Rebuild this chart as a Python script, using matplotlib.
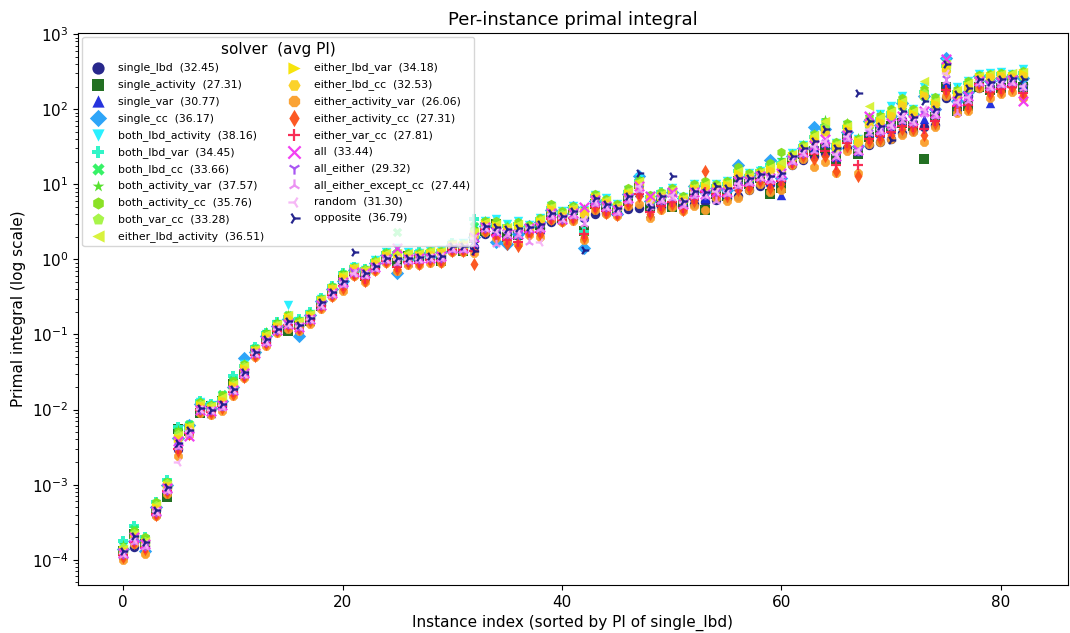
import numpy as np
import matplotlib
matplotlib.use("Agg")
import matplotlib.pyplot as plt

# solver names, avg PI shown in legend
solvers = ["single_lbd", "single_activity", "single_var", "single_cc",
           "both_lbd_activity", "both_lbd_var", "both_lbd_cc", "both_activity_var",
           "both_activity_cc", "both_var_cc", "either_lbd_activity", "either_lbd_var",
           "either_lbd_cc", "either_activity_var", "either_activity_cc", "either_var_cc",
           "all", "all_either", "all_either_except_cc", "random", "opposite"]
avg_pi = [32.45, 27.31, 30.77, 36.17, 38.16, 34.45, 33.66, 37.57, 35.76, 33.28, 36.51,
          34.18, 32.53, 26.06, 27.31, 27.81, 33.44, 29.32, 27.44, 31.30, 36.79]

# per-instance primal integral (instances sorted by single_lbd)
single_lbd = [1.1e-4, 1.5e-4, 1.55e-4, 4.0e-4, 8.0e-4, 3.0e-3, 5.0e-3, 9.5e-3, 1.0e-2, 1.1e-2,
              1.7e-2, 2.8e-2, 5.5e-2, 8.0e-2, 0.11, 0.125, 0.13, 0.16, 0.25, 0.34,
              0.45, 0.62, 0.64, 0.78, 0.95, 0.96, 0.98, 1.0, 1.02, 1.05,
              1.3, 1.35, 1.45, 2.2, 2.25, 2.3, 2.35, 2.4, 2.6, 3.1,
              3.2, 3.4, 3.6, 4.0, 4.1, 4.2, 4.7, 4.8, 4.9, 5.0,
              5.1, 5.2, 5.5, 5.8, 6.2, 6.5, 7.0, 8.5, 9.5, 10,
              11, 18, 21, 24, 26, 27, 30, 31, 33, 37,
              40, 48, 52, 58, 62, 140, 142, 150, 190, 195,
              200, 210, 215]
single_activity = [1.3e-4, 2.2e-4, 1.6e-4, 4.4e-4, 6.8e-4, 5.6e-3, 5.2e-3, 9.0e-3, 1.1e-2, 1.3e-2,
                   2.2e-2, 3.0e-2, 6.0e-2, 9.0e-2, 0.12, 0.11, 0.14, 0.15, 0.24, 0.38,
                   0.55, 0.70, 0.60, 0.85, 1.1, 0.90, 1.1, 1.0, 1.15, 0.95,
                   1.45, 1.3, 1.9, 2.4, 3.0, 2.0, 2.1, 2.5, 2.9, 4.2,
                   3.6, 4.5, 2.4, 5.5, 5.0, 4.4, 6.0, 10, 5.2, 6.0,
                   5.0, 5.4, 8.0, 4.5, 7.5, 7.0, 11, 10, 12, 7.5,
                   9.0, 22, 25, 28, 30, 22, 40, 25, 42, 50,
                   60, 65, 60, 22, 78, 200, 95, 110, 200, 180,
                   190, 230, 200]
single_var = [1.2e-4, 1.9e-4, 1.5e-4, 4.8e-4, 9.5e-4, 3.2e-3, 5.8e-3, 1.1e-2, 9.0e-3, 1.2e-2,
              1.8e-2, 3.4e-2, 5.7e-2, 8.8e-2, 0.125, 0.14, 0.12, 0.17, 0.27, 0.37,
              0.48, 0.68, 0.66, 0.82, 1.05, 0.75, 0.92, 1.08, 1.2, 1.1,
              1.4, 1.45, 1.7, 2.5, 2.4, 2.6, 1.8, 2.7, 2.5, 3.8,
              3.4, 4.0, 3.8, 5.8, 4.6, 4.8, 6.2, 8.0, 4.2, 5.5,
              6.2, 6.0, 7.0, 6.5, 7.8, 7.5, 9.5, 12, 13, 11,
              7.3, 20, 26, 30, 35, 23, 42, 28, 50, 48,
              55, 70, 65, 75, 85, 220, 110, 130, 230, 120,
              220, 240, 210]
single_cc = [1.4e-4, 1.8e-4, 1.3e-4, 5.0e-4, 1.0e-3, 4.2e-3, 6.2e-3, 1.2e-2, 1.05e-2, 1.3e-2,
             2.0e-2, 4.8e-2, 5.8e-2, 9.5e-2, 0.13, 0.16, 0.095, 0.18, 0.28, 0.40,
             0.52, 0.72, 0.70, 0.90, 1.15, 0.65, 1.0, 1.2, 1.1, 1.25,
             1.55, 1.5, 2.0, 2.8, 1.7, 1.6, 2.2, 2.8, 3.1, 4.6,
             4.0, 5.0, 1.4, 6.0, 5.5, 4.0, 7.5, 13, 6.0, 7.0,
             8.0, 6.5, 9.5, 8.0, 9.0, 8.5, 18, 13, 14, 21,
             12, 24, 30, 58, 55, 30, 50, 32, 70, 62,
             80, 120, 85, 150, 100, 480, 130, 170, 280, 240,
             260, 280, 260]
both_lbd_activity = [1.5e-4, 2.1e-4, 1.8e-4, 5.5e-4, 1.05e-3, 4.5e-3, 6.0e-3, 1.25e-2, 1.15e-2, 1.5e-2,
                     2.3e-2, 4.0e-2, 6.5e-2, 0.10, 0.14, 0.25, 0.15, 0.19, 0.30, 0.42,
                     0.60, 0.80, 0.72, 0.98, 1.25, 1.4, 1.25, 1.2, 1.3, 1.35,
                     1.6, 1.65, 2.6, 3.2, 3.4, 3.0, 3.2, 2.9, 3.6, 5.2,
                     4.4, 5.2, 4.6, 7.2, 6.5, 5.4, 8.5, 12, 7.0, 7.5,
                     9.0, 6.8, 10, 9.0, 10, 11, 14, 14, 15, 16,
                     20, 26, 33, 45, 65, 35, 62, 40, 75, 85,
                     110, 150, 100, 200, 140, 420, 200, 240, 290, 300,
                     310, 295, 340]
both_lbd_var = [1.8e-4, 2.8e-4, 2.0e-4, 5.8e-4, 1.15e-3, 5.8e-3, 5.6e-3, 1.3e-2, 1.2e-2, 1.4e-2,
                2.8e-2, 3.8e-2, 6.8e-2, 0.105, 0.145, 0.17, 0.16, 0.2, 0.31, 0.44,
                0.66, 0.78, 0.75, 0.95, 1.2, 1.2, 1.15, 1.25, 1.25, 1.3,
                1.65, 1.6, 3.4, 3.0, 2.9, 2.8, 3.0, 2.8, 3.4, 4.8,
                4.2, 4.8, 2.3, 7.0, 6.0, 5.2, 7.8, 11, 6.8, 7.8,
                8.5, 6.5, 9.0, 10, 9.5, 10, 15, 13, 15, 18,
                19, 24, 32, 42, 60, 33, 58, 36, 70, 75,
                90, 130, 95, 170, 120, 380, 170, 220, 270, 280,
                290, 280, 300]
both_lbd_cc = [1.3e-4, 2.6e-4, 1.9e-4, 5.6e-4, 1.1e-3, 5.2e-3, 6.4e-3, 1.2e-2, 1.1e-2, 1.6e-2,
               2.5e-2, 3.6e-2, 6.6e-2, 0.1, 0.14, 0.18, 0.15, 0.19, 0.30, 0.43,
               0.64, 0.75, 0.7, 0.9, 1.2, 2.3, 1.15, 1.15, 1.2, 1.2,
               1.6, 1.55, 2.8, 3.1, 2.7, 2.5, 2.9, 2.7, 3.2, 4.5,
               3.9, 4.6, 2.0, 6.8, 5.8, 5.0, 7.2, 10, 6.0, 7.2,
               7.8, 6.2, 8.8, 9.0, 9.0, 10, 13, 12, 14, 15,
               16, 23, 30, 40, 52, 30, 55, 34, 62, 70,
               80, 110, 90, 150, 115, 350, 160, 200, 260, 270,
               280, 270, 280]
both_activity_var = [1.6e-4, 2.5e-4, 1.9e-4, 6.0e-4, 1.1e-3, 5.5e-3, 6.3e-3, 1.3e-2, 1.2e-2, 1.5e-2,
                     2.4e-2, 4.2e-2, 6.6e-2, 0.11, 0.15, 0.19, 0.16, 0.2, 0.31, 0.45,
                     0.68, 0.8, 0.76, 1.0, 1.25, 1.3, 1.2, 1.25, 1.25, 1.3,
                     1.65, 1.6, 2.6, 3.3, 3.0, 2.8, 3.0, 2.8, 3.4, 5.0,
                     4.2, 5.0, 4.8, 7.0, 6.2, 5.3, 8.5, 12, 6.8, 7.6,
                     8.8, 6.8, 9.5, 11, 9.5, 11, 16, 13, 15, 17,
                     22, 26, 34, 48, 75, 36, 68, 42, 80, 85,
                     100, 140, 100, 190, 140, 440, 190, 230, 280, 290,
                     300, 290, 320]
both_activity_cc = [1.45e-4, 2.4e-4, 2.0e-4, 5.8e-4, 1.1e-3, 5.0e-3, 6.0e-3, 1.25e-2, 1.15e-2, 1.55e-2,
                    2.4e-2, 4.0e-2, 6.4e-2, 0.1, 0.14, 0.18, 0.15, 0.19, 0.3, 0.43,
                    0.62, 0.78, 0.74, 0.95, 1.2, 1.25, 1.2, 1.2, 1.3, 1.3,
                    1.6, 1.6, 2.4, 3.2, 3.2, 2.7, 3.1, 2.9, 3.6, 5.4,
                    4.4, 5.2, 4.2, 7.4, 6.4, 5.4, 8.8, 11, 7.2, 7.8,
                    9.0, 7.0, 10, 11, 10, 11, 17, 14, 15, 19,
                    27, 25, 33, 46, 68, 37, 65, 40, 78, 82,
                    100, 140, 100, 185, 145, 330, 180, 235, 285, 295,
                    300, 290, 320]
both_var_cc = [1.5e-4, 2.3e-4, 1.8e-4, 5.4e-4, 1.05e-3, 4.8e-3, 5.9e-3, 1.2e-2, 1.1e-2, 1.4e-2,
               2.2e-2, 3.8e-2, 6.2e-2, 0.095, 0.135, 0.17, 0.14, 0.18, 0.29, 0.42,
               0.6, 0.76, 0.72, 0.92, 1.15, 1.15, 1.15, 1.15, 1.25, 1.2,
               1.55, 1.6, 2.4, 3.0, 2.8, 2.6, 2.8, 2.7, 3.3, 4.8,
               4.0, 4.8, 3.8, 6.8, 6.0, 5.0, 7.8, 10, 6.5, 7.2,
               8.2, 6.4, 9.0, 9.5, 9.0, 10, 14, 12.5, 14, 16,
               18, 24, 31, 42, 58, 33, 58, 38, 70, 72,
               88, 120, 90, 165, 125, 360, 165, 210, 270, 280,
               285, 275, 300]
either_lbd_activity = [1.4e-4, 2.2e-4, 1.8e-4, 5.3e-4, 1.0e-3, 4.6e-3, 6.0e-3, 1.2e-2, 1.1e-2, 1.45e-2,
                       2.2e-2, 3.8e-2, 6.4e-2, 0.1, 0.14, 0.18, 0.15, 0.19, 0.3, 0.42,
                       0.62, 0.78, 0.72, 0.94, 1.2, 1.2, 1.2, 1.2, 1.28, 1.3,
                       1.6, 1.6, 2.3, 3.1, 3.0, 2.7, 3.0, 2.7, 3.4, 5.0,
                       4.0, 4.9, 4.4, 7.0, 6.2, 5.2, 8.2, 11, 6.8, 7.4,
                       8.4, 6.6, 9.2, 10, 9.5, 10.5, 15, 13, 14.5, 17,
                       20, 25, 32, 45, 70, 34, 60, 40, 110, 78,
                       95, 130, 95, 240, 130, 400, 180, 220, 280, 290,
                       295, 300, 310]
either_lbd_var = [1.35e-4, 2.1e-4, 1.7e-4, 5.0e-4, 9.8e-4, 4.2e-3, 5.8e-3, 1.15e-2, 1.05e-2, 1.35e-2,
                  2.1e-2, 3.6e-2, 6.2e-2, 0.095, 0.13, 0.17, 0.14, 0.18, 0.29, 0.41,
                  0.6, 0.76, 0.7, 0.9, 1.15, 1.1, 1.1, 1.15, 1.2, 1.25,
                  1.55, 1.55, 2.2, 3.0, 2.9, 2.6, 2.8, 2.6, 3.2, 4.8,
                  3.9, 4.7, 4.3, 6.8, 5.8, 5.0, 7.6, 10, 6.4, 7.0,
                  8.0, 6.3, 8.8, 9.5, 9.0, 10, 14, 12.5, 14, 16,
                  17, 24, 30, 40, 55, 32, 56, 38, 68, 70,
                  85, 120, 88, 160, 120, 380, 160, 205, 270, 275,
                  285, 280, 300]
either_lbd_cc = [1.3e-4, 2.0e-4, 1.25e-4, 4.8e-4, 9.5e-4, 4.0e-3, 5.6e-3, 1.1e-2, 1.0e-2, 1.3e-2,
                 2.0e-2, 3.4e-2, 6.0e-2, 0.09, 0.125, 0.16, 0.13, 0.17, 0.28, 0.4,
                 0.55, 0.74, 0.68, 0.88, 1.1, 1.05, 1.05, 1.1, 1.15, 1.2,
                 1.5, 1.5, 2.0, 2.9, 2.7, 2.5, 1.6, 2.5, 3.0, 4.5,
                 3.8, 4.6, 4.0, 6.5, 5.6, 4.8, 7.2, 9.0, 6.0, 6.8,
                 7.6, 6.0, 8.5, 9.0, 8.6, 9.5, 13, 12, 13.5, 15,
                 15, 22, 28, 38, 50, 30, 52, 35, 62, 65,
                 80, 110, 82, 150, 115, 320, 150, 190, 260, 265,
                 275, 270, 280]
either_activity_var = [1.0e-4, 1.6e-4, 1.2e-4, 3.8e-4, 7.5e-4, 2.4e-3, 4.6e-3, 9.0e-3, 8.5e-3, 9.5e-3,
                       1.5e-2, 2.6e-2, 5.0e-2, 7.0e-2, 0.105, 0.12, 0.11, 0.14, 0.22, 0.32,
                       0.38, 0.6, 0.5, 0.7, 0.9, 0.7, 0.85, 0.85, 0.9, 0.9,
                       1.25, 1.25, 1.2, 2.3, 1.9, 1.7, 1.6, 2.1, 2.0, 3.3,
                       3.1, 3.2, 1.8, 4.6, 4.0, 3.8, 5.2, 5.5, 3.6, 4.5,
                       5.0, 4.4, 5.2, 4.6, 6.5, 6.0, 6.5, 8.5, 10, 8.0,
                       8.5, 18, 22, 17, 20, 14, 28, 14, 34, 37,
                       40, 45, 50, 36, 58, 150, 90, 95, 190, 140,
                       160, 170, 140]
either_activity_cc = [1.1e-4, 1.65e-4, 1.4e-4, 4.0e-4, 8.0e-4, 2.8e-3, 4.8e-3, 9.5e-3, 9.0e-3, 1.05e-2,
                      1.6e-2, 2.7e-2, 5.2e-2, 7.5e-2, 0.11, 0.13, 0.12, 0.15, 0.23, 0.33,
                      0.42, 0.62, 0.52, 0.72, 0.92, 0.75, 0.9, 0.88, 0.95, 0.92,
                      1.3, 1.3, 0.88, 2.4, 2.0, 1.6, 1.5, 2.2, 2.2, 3.4,
                      3.2, 3.5, 2.0, 4.8, 4.2, 3.9, 5.5, 7.0, 4.0, 4.8,
                      5.5, 4.6, 6.0, 15, 7.0, 7.0, 8.5, 9.0, 11, 9.0,
                      10, 19, 24, 22, 24, 15, 32, 13, 38, 40,
                      45, 55, 55, 45, 65, 170, 100, 105, 210, 160,
                      175, 190, 155]
either_var_cc = [1.15e-4, 1.7e-4, 1.45e-4, 4.1e-4, 8.2e-4, 3.0e-3, 4.9e-3, 9.8e-3, 9.2e-3, 1.1e-2,
                 1.7e-2, 2.8e-2, 5.4e-2, 7.8e-2, 0.112, 0.135, 0.12, 0.155, 0.24, 0.34,
                 0.44, 0.64, 0.55, 0.74, 0.95, 0.8, 0.92, 0.9, 0.98, 0.95,
                 1.32, 1.32, 1.3, 2.5, 2.1, 1.8, 1.7, 2.3, 2.3, 3.5,
                 3.3, 3.6, 2.2, 5.0, 4.4, 4.0, 5.8, 7.5, 4.3, 5.2,
                 5.8, 4.8, 6.4, 8.0, 7.4, 7.2, 9.0, 9.5, 11.5, 10,
                 11, 19, 25, 25, 28, 18, 35, 18, 40, 44,
                 50, 60, 58, 55, 70, 180, 110, 115, 215, 170,
                 185, 195, 165]
all_ = [1.25e-4, 2.0e-4, 1.6e-4, 4.5e-4, 9e-4, 3.8e-3, 4.4e-3, 1.0e-2, 9.5e-3, 1.15e-2,
        1.8e-2, 3.1e-2, 5.6e-2, 8.2e-2, 0.115, 0.14, 0.125, 0.16, 0.25, 0.36,
        0.5, 0.68, 0.65, 0.78, 1.0, 1.4, 1.0, 1.05, 1.05, 1.1,
        1.4, 1.4, 2.0, 2.7, 2.3, 2.2, 2.2, 2.6, 2.7, 4.2,
        3.5, 4.2, 5.0, 6.2, 5.2, 4.5, 6.5, 9.5, 7.0, 6.4,
        8.0, 5.5, 8.0, 7.5, 8.0, 8.0, 11, 11, 13, 12,
        14, 21, 27, 33, 40, 24, 45, 29, 80, 55,
        65, 80, 72, 95, 90, 470, 130, 150, 240, 210,
        230, 245, 130]
all_either = [1.2e-4, 1.85e-4, 1.55e-4, 4.3e-4, 8.5e-4, 3.4e-3, 5.0e-3, 1.0e-2, 1.0e-2, 1.1e-2,
              1.8e-2, 3.0e-2, 5.6e-2, 8.0e-2, 0.115, 0.14, 0.13, 0.16, 0.25, 0.35,
              0.48, 0.67, 0.63, 0.8, 1.0, 0.95, 0.98, 1.0, 1.05, 1.05,
              1.4, 1.4, 1.7, 2.6, 2.4, 2.2, 2.2, 2.5, 2.6, 3.9,
              3.5, 4.0, 3.2, 5.8, 5.0, 4.4, 6.4, 9.0, 5.2, 6.2,
              7.0, 5.6, 7.5, 7.2, 8.0, 7.8, 10, 11, 12.5, 12,
              13, 21, 26, 30, 36, 24, 42, 28, 50, 52,
              60, 75, 68, 90, 85, 260, 120, 140, 230, 200,
              220, 235, 200]
all_either_except_cc = [1.15e-4, 1.75e-4, 1.5e-4, 4.2e-4, 8.3e-4, 3.2e-3, 4.8e-3, 9.8e-3, 9.6e-3, 1.05e-2,
                        1.75e-2, 2.9e-2, 5.5e-2, 7.8e-2, 0.112, 0.135, 0.125, 0.155, 0.24, 0.34,
                        0.46, 0.65, 0.6, 0.75, 0.98, 0.9, 0.95, 0.98, 1.0, 1.0,
                        1.35, 1.35, 1.6, 2.5, 1.6, 2.1, 2.1, 1.7, 2.5, 3.7,
                        3.3, 3.8, 3.0, 5.5, 4.8, 4.2, 6.0, 8.5, 5.0, 6.0,
                        6.5, 5.2, 7.0, 7.0, 6.0, 7.5, 9.5, 10.5, 12, 11,
                        12, 20, 25, 28, 34, 23, 40, 27, 48, 50,
                        58, 70, 65, 85, 80, 240, 90, 130, 220, 190,
                        210, 225, 190]
random_ = [1.25e-4, 1.9e-4, 1.6e-4, 4.4e-4, 8.8e-4, 2.0e-3, 5.2e-3, 1.02e-2, 9.8e-3, 1.15e-2,
           1.8e-2, 3.0e-2, 5.6e-2, 8.2e-2, 0.118, 0.14, 0.13, 0.16, 0.25, 0.36,
           0.5, 0.66, 0.64, 0.8, 1.0, 1.0, 1.0, 1.02, 1.08, 1.1,
           1.45, 1.45, 1.9, 2.7, 2.4, 2.4, 2.4, 2.6, 1.7, 4.0,
           3.6, 4.2, 3.4, 6.0, 5.2, 4.6, 6.6, 9.5, 5.6, 6.5,
           7.2, 5.8, 7.8, 7.5, 8.2, 8.2, 10.5, 11.5, 13, 12.5,
           13.5, 22, 27, 32, 38, 25, 44, 29, 55, 55,
           62, 80, 70, 100, 88, 300, 125, 145, 235, 205,
           225, 240, 205]
opposite = [1.3e-4, 2.1e-4, 1.7e-4, 4.6e-4, 9.2e-4, 3.6e-3, 5.3e-3, 1.05e-2, 1.0e-2, 1.2e-2,
            1.9e-2, 3.2e-2, 5.8e-2, 8.6e-2, 0.12, 0.15, 0.135, 0.165, 0.27, 0.37,
            0.52, 1.25, 0.66, 0.82, 1.05, 1.05, 1.05, 1.08, 1.1, 1.12,
            1.5, 1.5, 1.3, 2.8, 2.7, 2.5, 2.6, 2.7, 3.0, 4.2,
            3.8, 4.4, 1.35, 6.5, 5.4, 4.8, 7.0, 14, 5.0, 7.0,
            13, 6.0, 8.2, 8.0, 9.5, 9.0, 12, 12, 13.5, 13,
            14, 24, 30, 38, 55, 30, 52, 165, 70, 60,
            39, 95, 78, 130, 100, 400, 160, 190, 255, 230,
            250, 260, 255]

series = [single_lbd, single_activity, single_var, single_cc, both_lbd_activity,
          both_lbd_var, both_lbd_cc, both_activity_var, both_activity_cc, both_var_cc,
          either_lbd_activity, either_lbd_var, either_lbd_cc, either_activity_var,
          either_activity_cc, either_var_cc, all_, all_either, all_either_except_cc,
          random_, opposite]

markers = ["o", "s", "^", "D", "v", "P", "X", "*", "h", "p", "<", ">", "H", "8", "d",
           "+", "x", "1", "2", "3", "4"]
colors = ["#1c1c86", "#176817", "#1a28dc", "#23a0f8", "#1ef0ff", "#27f5c4", "#2cf25f",
          "#4ee024", "#84e01a", "#a3f540", "#d6f232", "#f7e300", "#fbd01e", "#fa9e2a",
          "#fc5018", "#f8224e", "#f236f2", "#a44ef2", "#ea8cf2", "#f6b4f6", "#1a1a88"]

fig, ax = plt.subplots(figsize=(10.7, 6.33), dpi=100)
fig.subplots_adjust(left=0.073, right=0.998, top=0.948, bottom=0.076)

for name, avg, vals, m, c in zip(solvers, avg_pi, series, markers, colors):
    x = np.arange(len(vals))
    lw = 1.6 if m in ["+", "x", "1", "2", "3", "4"] else 0
    ax.scatter(x, vals, marker=m, color=c, s=46, alpha=0.95, linewidths=lw,
               label=f"{name}  ({avg:.2f})")

ax.set_yscale("log")
ax.set_title("Per-instance primal integral", fontsize=13)
ax.set_xlabel("Instance index (sorted by PI of single_lbd)", fontsize=11)
ax.set_ylabel("Primal integral (log scale)", fontsize=11)
ax.tick_params(labelsize=11)

ax.legend(title="solver  (avg PI)", ncol=2, loc="upper left", fontsize=7.8,
          title_fontsize=11, markerscale=1.3, labelspacing=0.55,
          columnspacing=1.75, handletextpad=0.85, borderaxespad=0.4)

fig.savefig("out.png", dpi=100)
